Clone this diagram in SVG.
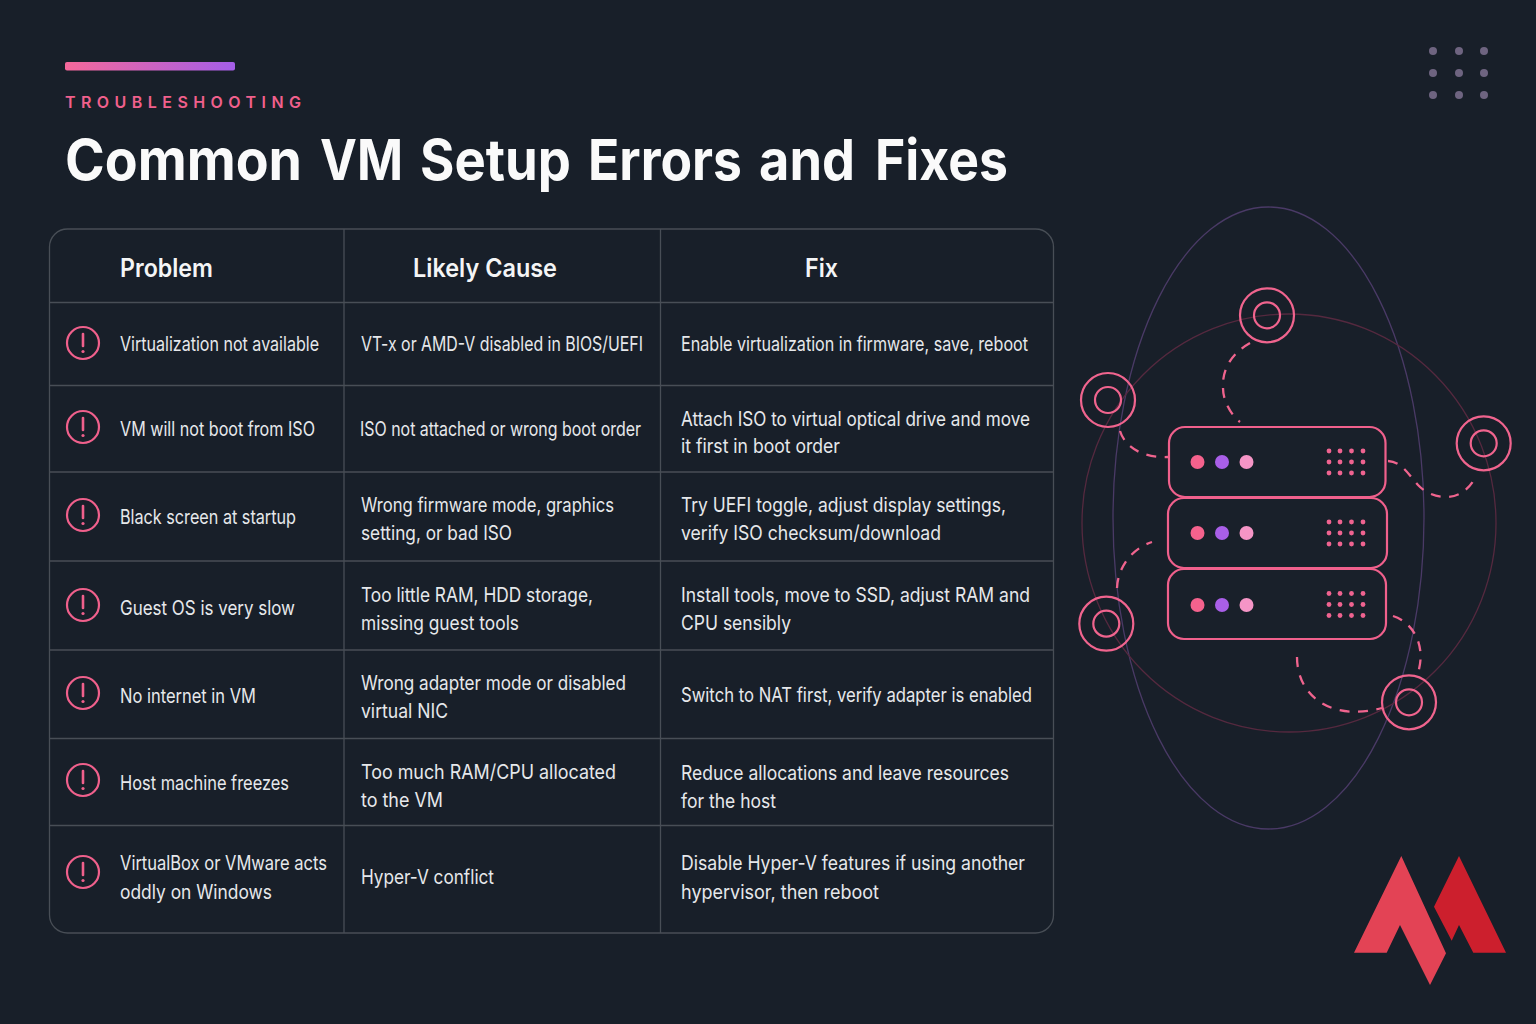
<svg xmlns="http://www.w3.org/2000/svg" width="1536" height="1024" viewBox="0 0 1536 1024">
<style>
text{font-family:"Inter","Liberation Sans",sans-serif}
.b{font-size:20px;fill:#e6e8eb}
.h{font-size:25px;font-weight:600;fill:#f4f5f6}
.grid{stroke:#484e56;stroke-width:1.3;fill:none}
.ic{fill:none;stroke:#f0608c;stroke-width:2.2}
.ex{stroke:#f0608c;stroke-width:2.6;stroke-linecap:round}
.srv{fill:#19202a;stroke:#f0608c;stroke-width:2.2}
.ring{fill:none;stroke:#f0648e;stroke-width:2.2}
.dash{fill:none;stroke:#f0648e;stroke-width:2.3;stroke-dasharray:10 8.5}
.g{fill:#ef6390}
.d1{fill:#f5628d}.d2{fill:#a95fe8}.d3{fill:#f595c6}
.td{fill:#6e6480}
</style>
<defs>
<linearGradient id="bar" x1="0" y1="0" x2="1" y2="0"><stop offset="0" stop-color="#f5689a"/><stop offset="1" stop-color="#a45ee8"/></linearGradient>
<g id="alert"><circle class="ic" r="16"/><line class="ex" x1="0" y1="-9" x2="0" y2="3"/><circle r="1.6" cy="8.5" fill="#f0608c"/></g>
<g id="dots"><circle class="g" cx="1329" cy="0" r="2.4"/><circle class="g" cx="1340" cy="0" r="2.4"/><circle class="g" cx="1351.500" cy="0" r="2.4"/><circle class="g" cx="1363" cy="0" r="2.4"/></g>
</defs>
<rect id="background" width="1536" height="1024" fill="#181f29"/>
<g id="header">
<rect x="65" y="62" width="170" height="8.500" rx="2" fill="url(#bar)"/>
<text x="65" y="107.500" font-size="16" font-weight="600" fill="#f0608c" textLength="236" lengthAdjust="spacing">TROUBLESHOOTING</text>
<text y="180" font-size="56" font-weight="700" fill="#fafafa"><tspan x="65" textLength="237" lengthAdjust="spacingAndGlyphs">Common</tspan><tspan x="320" textLength="83" lengthAdjust="spacingAndGlyphs">VM</tspan><tspan x="420" textLength="151" lengthAdjust="spacingAndGlyphs">Setup</tspan><tspan x="588" textLength="154" lengthAdjust="spacingAndGlyphs">Errors</tspan><tspan x="759" textLength="96" lengthAdjust="spacingAndGlyphs">and</tspan><tspan x="875" textLength="133" lengthAdjust="spacingAndGlyphs">Fixes</tspan></text>
</g>
<g id="corner-dots">
<circle class="td" cx="1433" cy="51" r="4"/><circle class="td" cx="1459" cy="51" r="4"/><circle class="td" cx="1484" cy="51" r="4"/>
<circle class="td" cx="1433" cy="73" r="4"/><circle class="td" cx="1459" cy="73" r="4"/><circle class="td" cx="1484" cy="73" r="4"/>
<circle class="td" cx="1433" cy="95" r="4"/><circle class="td" cx="1459" cy="95" r="4"/><circle class="td" cx="1484" cy="95" r="4"/>
</g>
<g id="table-grid" class="grid">
<rect x="49.500" y="229" width="1004" height="704" rx="18"/>
<path d="M344 229V933M660.500 229V933M49.500 302.500H1053.500M49.500 385.500H1053.500M49.500 472H1053.500M49.500 561H1053.500M49.500 650H1053.500M49.500 738.500H1053.500M49.500 825.500H1053.500"/>
</g>
<g id="table-head">
<text class="h" x="120" y="277" textLength="93" lengthAdjust="spacingAndGlyphs">Problem</text>
<text class="h" x="413" y="277" textLength="144" lengthAdjust="spacingAndGlyphs">Likely Cause</text>
<text class="h" x="805" y="277" textLength="33" lengthAdjust="spacingAndGlyphs">Fix</text>
</g>
<g id="row-1">
<use href="#alert" x="83" y="343"/>
<text class="b" x="120" y="351" textLength="199" lengthAdjust="spacingAndGlyphs">Virtualization not available</text>
<text class="b" x="361" y="351" textLength="282" lengthAdjust="spacingAndGlyphs">VT-x or AMD-V disabled in BIOS/UEFI</text>
<text class="b" x="681" y="351" textLength="347" lengthAdjust="spacingAndGlyphs">Enable virtualization in firmware, save, reboot</text>
</g>
<g id="row-2">
<use href="#alert" x="83" y="427"/>
<text class="b" x="120" y="436" textLength="195" lengthAdjust="spacingAndGlyphs">VM will not boot from ISO</text>
<text class="b" x="360" y="436" textLength="281" lengthAdjust="spacingAndGlyphs">ISO not attached or wrong boot order</text>
<text class="b" x="681" y="426" textLength="349" lengthAdjust="spacingAndGlyphs">Attach ISO to virtual optical drive and move</text>
<text class="b" x="681" y="453" textLength="159" lengthAdjust="spacingAndGlyphs">it first in boot order</text>
</g>
<g id="row-3">
<use href="#alert" x="83" y="515"/>
<text class="b" x="120" y="524" textLength="176" lengthAdjust="spacingAndGlyphs">Black screen at startup</text>
<text class="b" x="361" y="512" textLength="253" lengthAdjust="spacingAndGlyphs">Wrong firmware mode, graphics</text>
<text class="b" x="361" y="540" textLength="151" lengthAdjust="spacingAndGlyphs">setting, or bad ISO</text>
<text class="b" x="681" y="512" textLength="325" lengthAdjust="spacingAndGlyphs">Try UEFI toggle, adjust display settings,</text>
<text class="b" x="681" y="540" textLength="260" lengthAdjust="spacingAndGlyphs">verify ISO checksum/download</text>
</g>
<g id="row-4">
<use href="#alert" x="83" y="605"/>
<text class="b" x="120" y="615" textLength="175" lengthAdjust="spacingAndGlyphs">Guest OS is very slow</text>
<text class="b" x="361" y="602" textLength="232" lengthAdjust="spacingAndGlyphs">Too little RAM, HDD storage,</text>
<text class="b" x="361" y="630" textLength="158" lengthAdjust="spacingAndGlyphs">missing guest tools</text>
<text class="b" x="681" y="602" textLength="349" lengthAdjust="spacingAndGlyphs">Install tools, move to SSD, adjust RAM and</text>
<text class="b" x="681" y="630" textLength="110" lengthAdjust="spacingAndGlyphs">CPU sensibly</text>
</g>
<g id="row-5">
<use href="#alert" x="83" y="693"/>
<text class="b" x="120" y="703" textLength="136" lengthAdjust="spacingAndGlyphs">No internet in VM</text>
<text class="b" x="361" y="690" textLength="265" lengthAdjust="spacingAndGlyphs">Wrong adapter mode or disabled</text>
<text class="b" x="361" y="718" textLength="87" lengthAdjust="spacingAndGlyphs">virtual NIC</text>
<text class="b" x="681" y="702" textLength="351" lengthAdjust="spacingAndGlyphs">Switch to NAT first, verify adapter is enabled</text>
</g>
<g id="row-6">
<use href="#alert" x="83" y="780"/>
<text class="b" x="120" y="790" textLength="169" lengthAdjust="spacingAndGlyphs">Host machine freezes</text>
<text class="b" x="361" y="779" textLength="255" lengthAdjust="spacingAndGlyphs">Too much RAM/CPU allocated</text>
<text class="b" x="361" y="807" textLength="82" lengthAdjust="spacingAndGlyphs">to the VM</text>
<text class="b" x="681" y="780" textLength="328" lengthAdjust="spacingAndGlyphs">Reduce allocations and leave resources</text>
<text class="b" x="681" y="808" textLength="95" lengthAdjust="spacingAndGlyphs">for the host</text>
</g>
<g id="row-7">
<use href="#alert" x="83" y="872"/>
<text class="b" x="120" y="870" textLength="207" lengthAdjust="spacingAndGlyphs">VirtualBox or VMware acts</text>
<text class="b" x="120" y="899" textLength="152" lengthAdjust="spacingAndGlyphs">oddly on Windows</text>
<text class="b" x="361" y="884" textLength="133" lengthAdjust="spacingAndGlyphs">Hyper-V conflict</text>
<text class="b" x="681" y="870" textLength="344" lengthAdjust="spacingAndGlyphs">Disable Hyper-V features if using another</text>
<text class="b" x="681" y="899" textLength="198" lengthAdjust="spacingAndGlyphs">hypervisor, then reboot</text>
</g>
<g id="orbits" fill="none" stroke-width="1.3">
<ellipse cx="1268.500" cy="518" rx="155.500" ry="311" stroke="#4a3a66"/>
<ellipse cx="1289" cy="523" rx="207" ry="209" stroke="#55293f"/>
</g>
<g id="connectors">
<path class="dash" d="M1250 343C1229 355 1222 372 1223 388C1223 400 1230 414 1240 422"/>
<path class="dash" d="M1120 431C1125 447 1142 458 1168 457"/>
<path class="dash" d="M1388 461C1402 462 1408 474 1418 485C1432 500 1462 505 1476 476"/>
<path class="dash" d="M1117 588C1118 566 1133 548 1152 542"/>
<path class="dash" d="M1393 616C1412 622 1428 645 1417 676"/>
<path class="dash" d="M1297 657C1297 695 1330 722 1382 708"/>
</g>
<g id="server-1">
<rect class="srv" x="1169" y="427" width="216.500" height="70" rx="16"/>
<circle class="d1" cx="1197.500" cy="462" r="7"/><circle class="d2" cx="1222" cy="462" r="7"/><circle class="d3" cx="1246.500" cy="462" r="7"/>
<use href="#dots" y="451"/><use href="#dots" y="462"/><use href="#dots" y="473"/>
</g>
<g id="server-2">
<rect class="srv" x="1168" y="498" width="219" height="70" rx="16"/>
<circle class="d1" cx="1197.500" cy="533" r="7"/><circle class="d2" cx="1222" cy="533" r="7"/><circle class="d3" cx="1246.500" cy="533" r="7"/>
<use href="#dots" y="522"/><use href="#dots" y="533"/><use href="#dots" y="544"/>
</g>
<g id="server-3">
<rect class="srv" x="1168" y="569" width="218" height="70" rx="16"/>
<circle class="d1" cx="1197.500" cy="605" r="7"/><circle class="d2" cx="1222" cy="605" r="7"/><circle class="d3" cx="1246.500" cy="605" r="7"/>
<use href="#dots" y="593.500"/><use href="#dots" y="604.500"/><use href="#dots" y="615.500"/>
</g>
<g id="node-top"><circle class="ring" cx="1267" cy="315.300" r="27"/><circle class="ring" cx="1267" cy="315.300" r="13"/></g>
<g id="node-left"><circle class="ring" cx="1108" cy="400" r="27"/><circle class="ring" cx="1108" cy="400" r="13"/></g>
<g id="node-right"><circle class="ring" cx="1483.700" cy="443.300" r="27"/><circle class="ring" cx="1483.700" cy="443.300" r="13"/></g>
<g id="node-lower-left"><circle class="ring" cx="1106.300" cy="623.700" r="27"/><circle class="ring" cx="1106.300" cy="623.700" r="13"/></g>
<g id="node-lower-right"><circle class="ring" cx="1409" cy="702.300" r="27"/><circle class="ring" cx="1409" cy="702.300" r="13"/></g>
<g id="logo">
<polygon points="1459,856 1506,952.700 1473.300,952.700 1459,925 1451.700,940.700 1434,906.700" fill="#cc1f2d"/>
<polygon points="1401.300,856 1446,953.300 1430,985 1400,925 1386.700,952.700 1354,952.700" fill="#e34355"/>
</g>
</svg>
